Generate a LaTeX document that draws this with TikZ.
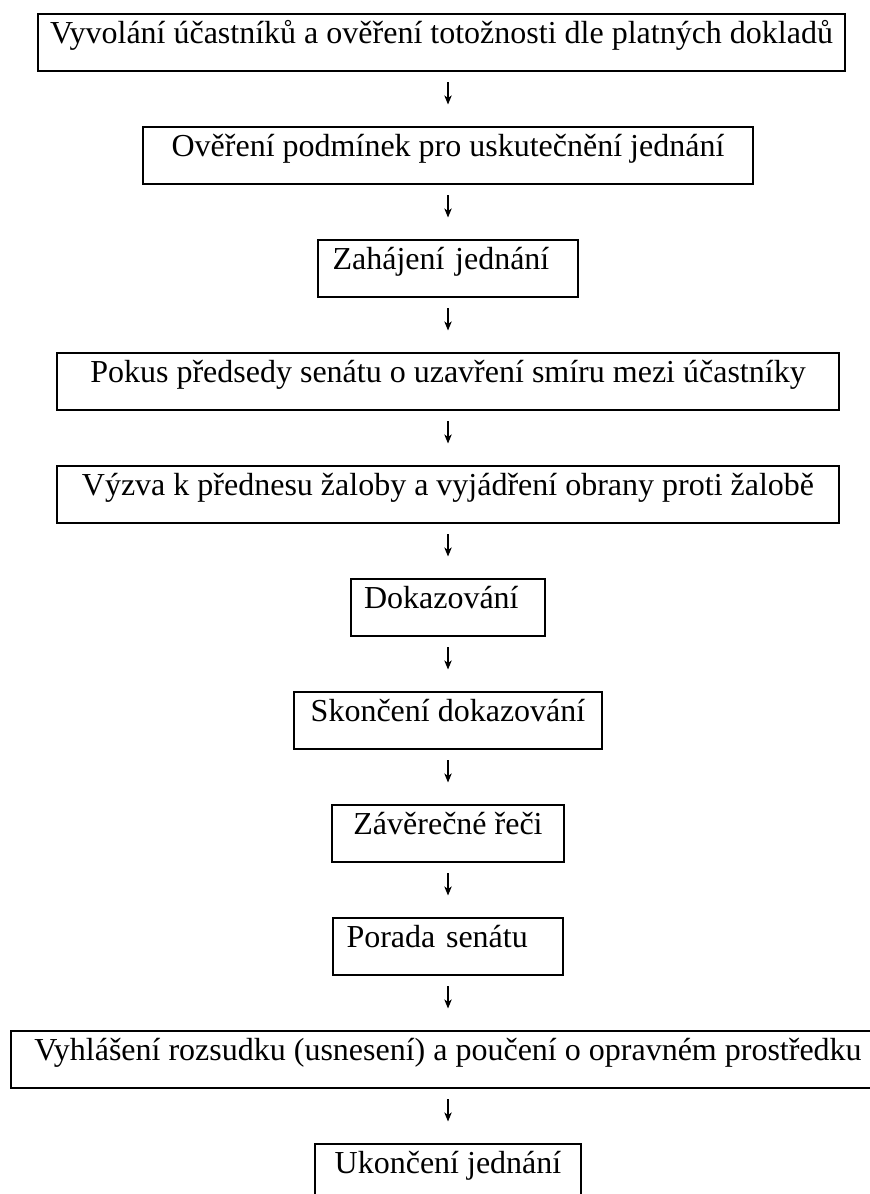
\documentclass[tikz,border=0pt]{standalone}
\usepackage{fontspec}
\setmainfont{Liberation Serif}
\usetikzlibrary{arrows.meta}

\begin{document}
\begin{tikzpicture}[x=0.375pt,y=-0.375pt,>={Stealth[length=3.4pt,width=2.8pt,inset=1pt]},shorten <=4.1pt,shorten >=7.9pt,
 node distance=42.375pt,
 stage/.style={draw,line width=0.75pt,font=\fontsize{12}{14}\selectfont,inner xsep=1pt,inner ysep=0pt,text height=11.06pt,text depth=10.31pt},
 leftstage/.style={stage,align=left}]
 \useasboundingbox (0,0) rectangle (870,1194);

 \node[stage,minimum width=302.6pt] (b1) at (441.5,42) {Vyvolání účastníků a ověření totožnosti dle platných dokladů};
 \node[stage,minimum width=228.75pt,below of=b1,xshift=2.44pt] (b2) {Ověření podmínek pro uskutečnění jednání};
 \node[leftstage,inner xsep=5.625pt,text width=86.6pt,below of=b2] (b3) {Zahájení jednání};
 \node[stage,minimum width=293.25pt,below of=b3] (b4) {Pokus předsedy senátu o uzavření smíru mezi účastníky};
 \node[stage,minimum width=293.25pt,below of=b4] (b5) {Výzva k přednesu žaloby a vyjádření obrany proti žalobě};
 \node[leftstage,inner xsep=4.875pt,text width=63pt,below of=b5] (b6) {Dokazování};
 \node[stage,minimum width=115.5pt,below of=b6] (b7) {Skončení dokazování};
 \node[stage,minimum width=87pt,below of=b7] (b8) {Závěrečné řeči};
 \node[leftstage,inner xsep=5.25pt,text width=76.1pt,below of=b8] (b9) {Porada senátu};
 \node[stage,minimum width=327.75pt,below of=b9] (b10) {Vyhlášení rozsudku (usnesení) a poučení o opravném prostředku};
 \node[stage,minimum width=100.1pt,below of=b10] (b11) {Ukončení jednání};

 \draw [->] (b1.south -| b2.north) -- (b2.north);
 \draw [->] (b2) edge (b3)
 (b3) edge (b4)
 (b4) edge (b5)
 (b5) edge (b6)
 (b6) edge (b7)
 (b7) edge (b8)
 (b8) edge (b9)
 (b9) edge (b10)
 (b10) edge (b11);
\end{tikzpicture}
\end{document}
